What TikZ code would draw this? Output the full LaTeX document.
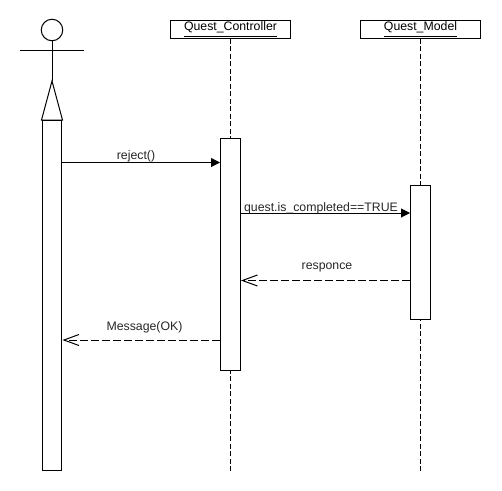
\documentclass[tikz,border=0pt]{standalone}
\usepackage{fontspec}
\setmainfont{Liberation Sans}
\usetikzlibrary{arrows.meta}
\tikzset{
  lifebox/.style={draw,line width=.02cm,fill=white,minimum width=2.4cm,minimum height=.36cm,inner sep=0pt,font=\fontsize{7}{8}\selectfont},
  actbar/.style={draw,line width=.02cm,fill=white,minimum width=.4cm,inner sep=0pt},
  lifeline/.style={line width=.02cm,dash pattern=on .1cm off .05cm},
  msgcall/.style={line width=.02cm,-{Triangle[length=.18cm,width=.18cm]}},
  msgback/.style={line width=.02cm,dash pattern=on .16cm off .06cm,-{Straight Barb[length=.3cm,width=.22cm,line width=.02cm]}},
  msgtext/.style={inner sep=0pt,anchor=base,font=\fontsize{7}{8}\selectfont,text=black!85}
}
\begin{document}
\begin{tikzpicture}[x=.02cm,y=-.02cm]%Quest reject sequence
\useasboundingbox (0,0) rectangle (502,490);
\node[lifebox] (ctrl) at (230.5,29.5){\underline{Quest\_Controller}};
\node[lifebox] (model) at (420.5,29.5){\underline{Quest\_Model}};
\coordinate (ctrlend) at (230.5,470.5);
\coordinate (modelend) at (420.5,470.5);
\draw[lifeline] (ctrl.south) -- (ctrlend);
\draw[lifeline] (model.south) -- (modelend);
\node[circle,draw,line width=.02cm,minimum size=.43cm,inner sep=0pt] (head) at (52,30){};
\coordinate (armleft) at (20,50);
\coordinate (armright) at (84,50);
\coordinate (hip) at (52,81);
\coordinate (footleft) at (41.5,120);
\coordinate (footright) at (62.5,120);
\draw[line width=.02cm] (head.south) -- (hip);
\draw[line width=.02cm] (armleft) -- (armright);
\draw[line width=.02cm] (hip) -- (footleft) -- (footright) -- cycle;
\node[actbar,minimum height=7cm] (actorbar) at (52,295.5){};
\node[actbar,minimum height=4.66cm] (ctrlbar) at (230.5,254.5){};
\node[actbar,minimum height=2.68cm] (modelbar) at (420.5,252.5){};
\coordinate (a1) at (actorbar.east |- 0,162.5);
\coordinate (a2) at (ctrlbar.west |- 0,162.5);
\coordinate (b1) at (ctrlbar.east |- 0,213);
\coordinate (b2) at (modelbar.west |- 0,213);
\coordinate (c1) at (modelbar.west |- 0,280.5);
\coordinate (c2) at (ctrlbar.east |- 0,280.5);
\coordinate (d1) at (ctrlbar.west |- 0,340);
\coordinate (d2) at (actorbar.east |- 0,340);
\draw[msgcall] (a1) -- (a2);
\draw[msgcall] (b1) -- (b2);
\draw[msgback] (c1) -- (c2);
\draw[msgback] (d1) -- (d2);
\node[msgtext] (reject) at (136,159){reject()};
\node[msgtext] (completed) at (321,211){quest.is\_completed==TRUE};
\node[msgtext] (responce) at (327,269){responce};
\node[msgtext] (message) at (144.5,330){Message(OK)};
\end{tikzpicture}
\end{document}
